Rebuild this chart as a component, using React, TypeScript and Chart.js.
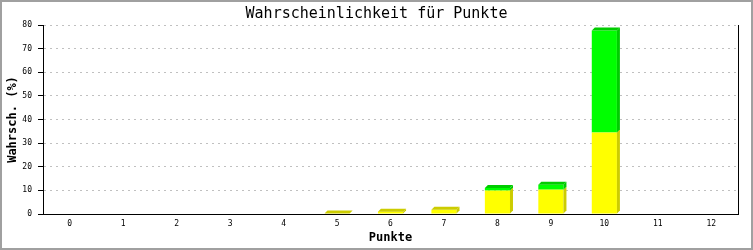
import React, { useEffect, useRef } from "react";
import { Chart, registerables } from "chart.js";

Chart.register(...registerables);

const categories = ["0", "1", "2", "3", "4", "5", "6", "7", "8", "9", "10", "11", "12"];
const yellowValues = [0, 0, 0, 0, 0, 0.2, 1.0, 1.8, 9.9, 10.3, 34.5, 0, 0];
const greenValues = [0, 0, 0, 0, 0, 0, 0, 0, 1.1, 2.1, 43.2, 0, 0];
const yTickValues = [0, 10, 20, 30, 40, 50, 60, 70, 80];

const titleText = "Wahrscheinlichkeit für Punkte";
const xTitle = "Punkte";
const yTitle = "Wahrsch. (%)";

const frontColors = ["#ffff00", "#00ff00"];
const sideColors = ["#cccc00", "#00cc00"];
const DEPTH = 3;

const bar3d = {
  id: "bar3d",
  afterDatasetsDraw(chart: any) {
    const ctx = chart.ctx;
    const n = chart.data.labels.length;
    const sets = chart.data.datasets;
    ctx.save();
    for (let j = 0; j < n; j++) {
      let topIdx = -1;
      sets.forEach((ds: any, i: number) => {
        if (ds.data[j] > 0) topIdx = i;
      });
      if (topIdx < 0) continue;
      sets.forEach((ds: any, i: number) => {
        if (!(ds.data[j] > 0)) return;
        const el = chart.getDatasetMeta(i).data[j];
        const { x, y, base, width } = el.getProps(["x", "y", "base", "width"], true);
        const l = x - width / 2;
        const r = x + width / 2;
        const d = DEPTH;
        ctx.fillStyle = sideColors[i];
        ctx.beginPath();
        ctx.moveTo(r, y);
        ctx.lineTo(r + d, y - d);
        ctx.lineTo(r + d, base - d);
        ctx.lineTo(r, base);
        ctx.closePath();
        ctx.fill();
        if (i === topIdx) {
          ctx.beginPath();
          ctx.moveTo(l, y);
          ctx.lineTo(l + d, y - d);
          ctx.lineTo(r + d, y - d);
          ctx.lineTo(r, y);
          ctx.closePath();
          ctx.fill();
        }
      });
    }
    ctx.restore();
  },
};

const frame = {
  id: "frame",
  beforeDraw(chart: any) {
    const ctx = chart.ctx;
    ctx.save();
    ctx.fillStyle = "#ffffff";
    ctx.fillRect(0, 0, chart.width, chart.height);
    ctx.restore();
  },
  afterDraw(chart: any) {
    const ctx = chart.ctx;
    ctx.save();
    ctx.strokeStyle = "#a0a0a0";
    ctx.lineWidth = 2;
    ctx.strokeRect(1, 1, chart.width - 2, chart.height - 2);
    ctx.restore();
  },
};

const tickFont = { family: "DejaVu Sans Mono", size: 8 };
const axisTitleFont = { family: "DejaVu Sans Mono", size: 12, weight: "bold" as const };

export default function App() {
  const ref = useRef<HTMLCanvasElement>(null);
  useEffect(() => {
    if (!ref.current) return;
    const chart = new Chart(ref.current, {
      type: "bar",
      data: {
        labels: categories,
        datasets: [
          { label: "gelb", data: yellowValues, backgroundColor: frontColors[0], borderWidth: 0 },
          { label: "grün", data: greenValues, backgroundColor: frontColors[1], borderWidth: 0 },
        ],
      },
      options: {
        animation: false,
        responsive: false,
        devicePixelRatio: 1,
        layout: { padding: 0 },
        datasets: { bar: { categoryPercentage: 1, barPercentage: 0.47 } },
        plugins: {
          legend: { display: false },
          tooltip: { enabled: false },
          title: {
            display: true,
            text: titleText,
            color: "#000",
            font: { family: "DejaVu Sans Mono", size: 15, weight: "normal" },
            padding: { top: 5, bottom: 2 },
          },
        },
        scales: {
          x: {
            stacked: true,
            grid: { display: false, drawTicks: false },
            border: { display: true, color: "#000", width: 1 },
            ticks: { color: "#000", font: tickFont, padding: 5, maxRotation: 0, autoSkip: false },
            title: {
              display: true,
              text: xTitle,
              color: "#000",
              font: axisTitleFont,
              padding: { top: 0, bottom: 5 },
            },
            afterFit: (s: any) => {
              s.height = 36;
            },
          },
          y: {
            stacked: true,
            min: 0,
            max: 80,
            afterBuildTicks: (s: any) => {
              s.ticks = yTickValues.map((v) => ({ value: v }));
            },
            ticks: { color: "#000", font: tickFont, padding: 6 },
            grid: {
              color: (c: any) => (c.tick && c.tick.value === 0 ? "rgba(0,0,0,0)" : "#c0c0c0"),
              tickColor: "#000",
              tickLength: 5,
              tickBorderDash: [],
            },
            border: { display: true, color: "#000", dash: [2, 4] },
            title: {
              display: true,
              text: yTitle,
              color: "#000",
              font: axisTitleFont,
              padding: { top: 6, bottom: 0 },
            },
            afterFit: (s: any) => {
              s.width = 43;
            },
          },
          y2: {
            position: "right",
            min: 0,
            max: 80,
            ticks: { display: false },
            grid: { display: true, drawOnChartArea: false, drawTicks: false },
            border: { display: true, color: "#000" },
            afterFit: (s: any) => {
              s.width = 15;
            },
          },
        },
      } as any,
      plugins: [bar3d, frame],
    });
    return () => chart.destroy();
  }, []);
  return (
    <div style={{ position: "fixed", left: 0, top: 0 }}>
      <canvas ref={ref} width={753} height={250} style={{ display: "block" }} />
    </div>
  );
}
